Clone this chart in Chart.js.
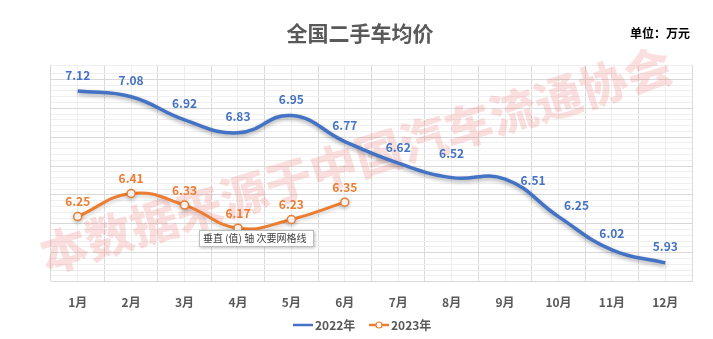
<!DOCTYPE html>
<html>
<head>
<meta charset="utf-8">
<script src="https://cdn.jsdelivr.net/npm/chart.js@4.4.0/dist/chart.umd.min.js"></script>
<style>
  html, body { margin: 0; padding: 0; background: #fff; }
</style>
</head>
<body>
<canvas id="precioUsados" width="713" height="339"></canvas>
<script>
const meses = ['1月', '2月', '3月', '4月', '5月', '6月', '7月', '8月', '9月', '10月', '11月', '12月'];
const precio2022 = [7.12, 7.08, 6.92, 6.83, 6.95, 6.77, 6.62, 6.52, 6.51, 6.25, 6.02, 5.93];
const precio2023 = [6.25, 6.41, 6.33, 6.17, 6.23, 6.35];
const series = ['2022年', '2023年'];
const titulo = '全国二手车均价';
const unidad = '单位：万元';
const marcaAgua = '本数据来源于中国汽车流通协会';
const textoAyuda = '垂直 (值) 轴 次要网格线';
// donde va cada etiqueta de 2022 respecto a su punto
const posEtiqueta2022 = ['top', 'top', 'top', 'top', 'top', 'top', 'top', 'high', 'right', 'topright', 'top', 'top'];

const AZUL = '#4472C4';
const NARANJA = '#ED7D31';
const FUENTE = '"Noto Sans CJK SC", "Noto Sans", sans-serif';

const extras = {
  id: 'extras',
  beforeDatasetsDraw(chart) {
    const ctx = chart.ctx;
    // marca de agua
    ctx.save();
    ctx.translate(356, 160);
    ctx.rotate(-17.1 * Math.PI / 180);
    ctx.font = '900 47px ' + FUENTE;
    ctx.textAlign = 'center';
    ctx.textBaseline = 'middle';
    ctx.fillStyle = 'rgba(235, 80, 80, 0.18)';
    ctx.fillText(marcaAgua, 0, 0);
    ctx.restore();
  },
  beforeDatasetDraw(chart, args) {
    const ctx = chart.ctx;
    ctx.save();
    ctx.shadowColor = args.index === 0 ? 'rgba(0,0,0,0.35)' : 'rgba(0,0,0,0.2)';
    ctx.shadowBlur = 4;
    ctx.shadowOffsetY = 2;
  },
  afterDatasetDraw(chart) {
    chart.ctx.restore();
  },
  afterDatasetsDraw(chart) {
    const ctx = chart.ctx;
    ctx.save();
    ctx.font = 'bold 12px ' + FUENTE;
    ctx.textAlign = 'center';
    ctx.textBaseline = 'middle';

    // etiquetas 2022
    ctx.fillStyle = AZUL;
    chart.getDatasetMeta(0).data.forEach((p, i) => {
      let x = p.x, y = p.y - 16;
      if (posEtiqueta2022[i] === 'high') y = p.y - 24;
      if (posEtiqueta2022[i] === 'right') { x = p.x + 28; y = p.y + 1; }
      if (posEtiqueta2022[i] === 'topright') { x = p.x + 18; y = p.y - 11; }
      ctx.fillText(precio2022[i].toFixed(2), x, y);
    });

    // etiquetas 2023
    ctx.fillStyle = NARANJA;
    chart.getDatasetMeta(1).data.forEach((p, i) => {
      ctx.fillText(precio2023[i].toFixed(2), p.x, p.y - 15);
    });
    ctx.restore();
  },
  afterDraw(chart) {
    const ctx = chart.ctx;
    ctx.save();
    ctx.textBaseline = 'middle';

    // titulo y unidad
    ctx.fillStyle = '#595959';
    ctx.font = 'bold 21px ' + FUENTE;
    ctx.textAlign = 'center';
    ctx.fillText(titulo, 360, 33);
    ctx.fillStyle = '#000';
    ctx.font = 'bold 12px ' + FUENTE;
    ctx.textAlign = 'right';
    ctx.fillText(unidad, 690, 33);

    // cuadro de ayuda de Excel
    const bx = 199, by = 230, bw = 115, bh = 17;
    ctx.shadowColor = 'rgba(0,0,0,0.25)';
    ctx.shadowBlur = 3;
    ctx.shadowOffsetX = 1;
    ctx.shadowOffsetY = 1;
    ctx.fillStyle = '#fff';
    ctx.fillRect(bx, by, bw, bh);
    ctx.shadowColor = 'transparent';
    ctx.strokeStyle = '#bfbfbf';
    ctx.lineWidth = 1;
    ctx.strokeRect(bx + 0.5, by + 0.5, bw - 1, bh - 1);
    ctx.fillStyle = '#404040';
    ctx.font = '10px ' + FUENTE;
    ctx.textAlign = 'left';
    ctx.fillText(textoAyuda, bx + 4, by + bh / 2);

    // leyenda
    const ly = 325;
    ctx.lineWidth = 2.5;
    ctx.strokeStyle = AZUL;
    ctx.beginPath(); ctx.moveTo(293, ly); ctx.lineTo(313, ly); ctx.stroke();
    ctx.strokeStyle = NARANJA;
    ctx.beginPath(); ctx.moveTo(369, ly); ctx.lineTo(389, ly); ctx.stroke();
    ctx.lineWidth = 1.2;
    ctx.fillStyle = '#fff';
    ctx.beginPath(); ctx.arc(379, ly, 3, 0, Math.PI * 2); ctx.fill(); ctx.stroke();
    ctx.fillStyle = '#595959';
    ctx.font = 'bold 12px ' + FUENTE;
    ctx.fillText(series[0], 315, ly);
    ctx.fillText(series[1], 391, ly);
    ctx.restore();
  }
};

const ctx = document.getElementById('precioUsados').getContext('2d');

const grafico = new Chart(ctx, {
  type: 'line',
  data: {
    labels: meses,
    datasets: [{
      label: series[0],
      data: precio2022,
      borderColor: AZUL,
      borderWidth: 3.5,
      pointRadius: 0,
      tension: 0.45,
      fill: false
    }, {
      label: series[1],
      data: precio2023,
      borderColor: NARANJA,
      borderWidth: 3,
      pointRadius: 4,
      pointBackgroundColor: '#fff',
      pointBorderColor: NARANJA,
      pointBorderWidth: 1.5,
      tension: 0.45,
      fill: false
    }]
  },
  options: {
    responsive: false,
    animation: false,
    layout: {
      padding: { left: 51, right: 21, top: 65, bottom: 15 }
    },
    plugins: {
      legend: { display: false },
      tooltip: { enabled: false }
    },
    scales: {
      x: {
        offset: true,
        border: { display: true, color: '#d9d9d9' },
        grid: { offset: true, drawTicks: false, color: '#dadada' },
        ticks: {
          padding: 14,
          color: '#595959',
          font: { family: FUENTE, size: 12, weight: 'bold' }
        }
      },
      x2: {
        type: 'category',
        labels: meses,
        offset: true,
        position: 'bottom',
        border: { display: false },
        grid: { offset: false, drawTicks: false, color: '#ededed' },
        ticks: { display: false },
        afterFit: (s) => { s.height = 0; }
      },
      y: {
        min: 5.8,
        max: 7.3,
        border: { display: false },
        ticks: { display: false, stepSize: 0.04, maxTicksLimit: 100 },
        grid: {
          drawTicks: false,
          color: (c) => (c.index % 5 === 0 ? '#d9d9d9' : '#efefef')
        }
      }
    }
  },
  plugins: [extras]
});
</script>
</body>
</html>
